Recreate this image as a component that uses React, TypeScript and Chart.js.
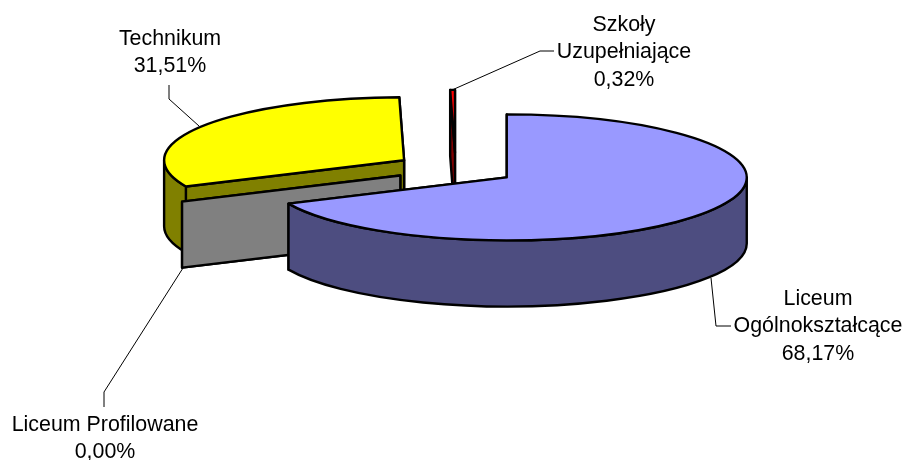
import { useEffect, useRef } from "react";
import { Chart, registerables } from "chart.js";

Chart.register(...registerables);

// School types and their shares, in drawing order clockwise from 12 o'clock.
const schoolTypes = ["Liceum Ogólnokształcące", "Liceum Profilowane", "Technikum", "Szkoły Uzupełniające"];
const shares = [68.17, 0.0, 31.51, 0.32];
const topColors = ["#9999FF", "#808080", "#FFFF00", "#FF0000"];
const wallColors = ["#4D4D80", "#808080", "#808000", "#800000"];

// Label text broken into lines, one list per slice.
const labelLines = [["Liceum", "Ogólnokształcące"], ["Liceum Profilowane"], ["Technikum"], ["Szkoły", "Uzupełniające"]];

// Tilted-pie projection.
const WIDTH = 904;
const HEIGHT = 460;
const RADIUS = 240;
const SQUISH = 0.2625;
const DEPTH = 66;
const EXPLODE = 60.8;
const PIE_X = 455.6;
const PIE_Y = 168.8;
const FONT_SIZE = 21.4;
const LINE_STEP = 27.5;
const OUTLINE_WIDTH = 2.4;

// Label placement: centre x, centre y of the first line, and the leader polyline.
const labelPlacement = [
  { x: 818, y: 299, leader: [[711, 278], [716, 326], [731, 326]] },
  { x: 105, y: 425, leader: [[183, 268], [104, 392], [104, 407]] },
  { x: 170, y: 39, leader: [[169, 85], [169, 99], [199, 126]] },
  { x: 624, y: 25, leader: [[452, 90], [540, 51], [554, 51]] },
];

const percent = (v: number) => v.toFixed(2).replace(".", ",") + "%";

// Draws the pie as an extruded, exploded disc; paint order runs back to front.
const tiltedPie = {
  id: "tiltedPie",
  beforeDatasetsDraw(chart: any) {
    const ctx: CanvasRenderingContext2D = chart.ctx;
    const arcs = chart.getDatasetMeta(0).data;
    const order = [2, 1, 3, 0];

    for (const i of order) {
      const arc = arcs[i];
      const { x, y, startAngle, endAngle, outerRadius } = arc;
      const mid = (startAngle + endAngle) / 2;
      const ox = PIE_X + Math.cos(mid) * EXPLODE;
      const oy = PIE_Y + Math.sin(mid) * EXPLODE * SQUISH;
      const rx = outerRadius;
      const ry = outerRadius * SQUISH;
      const edge = (a: number) => [ox + rx * Math.cos(a), oy + ry * Math.sin(a)];

      const outline = () => {
        ctx.strokeStyle = "#000";
        ctx.lineWidth = OUTLINE_WIDTH;
        ctx.lineJoin = "round";
        ctx.stroke();
      };

      // A radial cut face, extruded downward.
      const cutFace = (a: number) => {
        const [ex, ey] = edge(a);
        ctx.beginPath();
        ctx.moveTo(ox, oy);
        ctx.lineTo(ex, ey);
        ctx.lineTo(ex, ey + DEPTH);
        ctx.lineTo(ox, oy + DEPTH);
        ctx.closePath();
        ctx.fillStyle = wallColors[i];
        ctx.fill();
        outline();
      };

      // Back-facing faces get covered by the slice's own top.
      cutFace(endAngle);
      cutFace(startAngle);

      // Outer rim: only the part of the arc facing the viewer.
      const norm = (a: number) => ((a % (2 * Math.PI)) + 2 * Math.PI) % (2 * Math.PI);
      const s = norm(startAngle);
      const span = endAngle - startAngle;
      let from = -1;
      let to = -1;
      if (s + span > 2 * Math.PI) {
        from = 0;
        to = Math.min(Math.PI, s + span - 2 * Math.PI);
      } else if (s < Math.PI) {
        from = s;
        to = Math.min(Math.PI, s + span);
      }
      if (to > from && from >= 0) {
        ctx.beginPath();
        ctx.ellipse(ox, oy, rx, ry, 0, from, to);
        ctx.ellipse(ox, oy + DEPTH, rx, ry, 0, to, from, true);
        ctx.closePath();
        ctx.fillStyle = wallColors[i];
        ctx.fill();
        outline();
      }

      // Top of the slice: the library's arc element, seen through the projection.
      if (span > 0) {
        ctx.save();
        ctx.translate(ox, oy);
        ctx.scale(1, SQUISH);
        ctx.translate(-x, -y);
        arc.draw(ctx);
        ctx.restore();

        ctx.beginPath();
        ctx.moveTo(ox, oy);
        ctx.ellipse(ox, oy, rx, ry, 0, startAngle, endAngle);
        ctx.closePath();
        outline();
      }
    }
    return false;
  },
  afterDraw(chart: any) {
    const ctx: CanvasRenderingContext2D = chart.ctx;
    ctx.save();
    ctx.strokeStyle = "#000";
    ctx.lineWidth = 1;
    ctx.beginPath();
    for (const { leader } of labelPlacement) {
      leader.forEach(([lx, ly], k) => (k ? ctx.lineTo(lx, ly) : ctx.moveTo(lx, ly)));
    }
    ctx.stroke();

    ctx.fillStyle = "#000";
    ctx.font = `${FONT_SIZE}px "Liberation Sans"`;
    ctx.textAlign = "center";
    ctx.textBaseline = "middle";
    shares.forEach((value, i) => {
      const { x, y } = labelPlacement[i];
      [...labelLines[i], percent(value)].forEach((line, k) => {
        ctx.fillText(line, x, y + k * LINE_STEP);
      });
    });
    ctx.restore();
  },
};

export default function App() {
  const canvasRef = useRef<HTMLCanvasElement>(null);

  useEffect(() => {
    const chart = new Chart(canvasRef.current!, {
      type: "pie",
      data: {
        labels: schoolTypes,
        datasets: [{ data: shares, backgroundColor: topColors, borderWidth: 0 }],
      },
      options: {
        animation: false,
        responsive: false,
        radius: RADIUS,
        plugins: { legend: { display: false }, tooltip: { enabled: false } },
      } as any,
      plugins: [tiltedPie],
    });
    return () => chart.destroy();
  }, []);

  return (
    <div style={{ position: "absolute", left: 0, top: 0, background: "#fff" }}>
      <canvas ref={canvasRef} width={WIDTH} height={HEIGHT} style={{ display: "block" }} />
    </div>
  );
}
